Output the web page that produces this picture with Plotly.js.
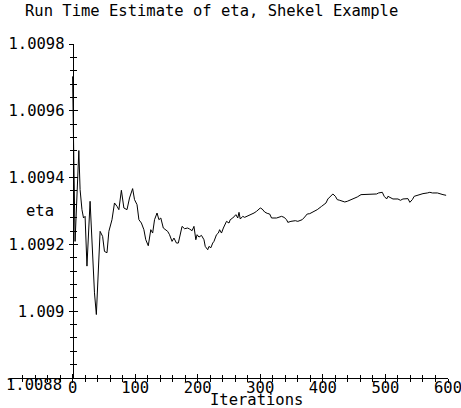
<!DOCTYPE html>
<html>
<head>
<meta charset="utf-8">
<script src="https://cdn.plot.ly/plotly-3.0.1.min.js"></script>
<style>html,body{margin:0;padding:0;background:#fff;}#chart{width:461px;height:408px;}</style>
</head>
<body>
<div id="chart"></div>
<script>
const iterations = [0, 4, 10, 12, 15, 17.5, 20, 23, 28, 32, 35, 38, 44, 48, 51, 55, 58, 63, 67, 71, 74, 78, 82, 87, 91, 96, 99, 103, 106, 110, 114, 117, 121, 125, 128, 131, 135, 138, 141, 145, 149, 152, 155, 159, 162, 166, 169, 172, 175, 179, 184, 187, 191, 194, 197, 199, 202, 206, 210, 212, 216, 218, 221, 224, 226, 230, 233, 235, 238, 241, 243, 246, 250, 252, 256, 261, 264, 266, 268, 272, 275, 282, 286, 290, 294, 300, 303, 307, 311, 315, 318, 322, 326, 334, 338, 342, 344, 349, 356, 360, 367, 371, 375, 379, 386, 391, 398, 401, 405, 408, 412, 416, 420, 423, 427, 431, 435, 439, 443, 447, 451, 455, 461, 466, 473, 478, 486, 489, 495, 498, 502, 504, 512, 520, 524, 528, 536, 539, 543, 546, 553, 560, 567, 571, 575, 583, 592, 597];
const eta = [1.009703, 1.009209, 1.009481, 1.009364, 1.009304, 1.009279, 1.009284, 1.009135, 1.009329, 1.009155, 1.009055, 1.008990, 1.009239, 1.009224, 1.009179, 1.009175, 1.009239, 1.009274, 1.009324, 1.009314, 1.009304, 1.009362, 1.009309, 1.009304, 1.009339, 1.009367, 1.009334, 1.009319, 1.009274, 1.009264, 1.009244, 1.009214, 1.009196, 1.009244, 1.009234, 1.009274, 1.009294, 1.009274, 1.009279, 1.009249, 1.009244, 1.009239, 1.009229, 1.009209, 1.009219, 1.009204, 1.009204, 1.009229, 1.009254, 1.009247, 1.009249, 1.009246, 1.009241, 1.009254, 1.009214, 1.009229, 1.009222, 1.009227, 1.009214, 1.009194, 1.009184, 1.009194, 1.009190, 1.009204, 1.009209, 1.009229, 1.009234, 1.009244, 1.009234, 1.009249, 1.009259, 1.009269, 1.009264, 1.009274, 1.009279, 1.009289, 1.009279, 1.009296, 1.009276, 1.009284, 1.009281, 1.009286, 1.009289, 1.009294, 1.009299, 1.009309, 1.009306, 1.009297, 1.009293, 1.009291, 1.009279, 1.009279, 1.009279, 1.009284, 1.009281, 1.009274, 1.009266, 1.009269, 1.009271, 1.009269, 1.009274, 1.009282, 1.009291, 1.009292, 1.009299, 1.009304, 1.009314, 1.009319, 1.009324, 1.009336, 1.009344, 1.009351, 1.009344, 1.009334, 1.009332, 1.009329, 1.009327, 1.009329, 1.009332, 1.009336, 1.009339, 1.009342, 1.009349, 1.009349, 1.009351, 1.009349, 1.009351, 1.009354, 1.009356, 1.009344, 1.009336, 1.009344, 1.009336, 1.009336, 1.009332, 1.009336, 1.009337, 1.009326, 1.009334, 1.009344, 1.009349, 1.009352, 1.009354, 1.009356, 1.009354, 1.009354, 1.009349, 1.009347];
const xTickVals = [0, 100, 200, 300, 400, 500, 600];
const yTickVals = [1.0088, 1.009, 1.0092, 1.0094, 1.0096, 1.0098];
const yTickText = ['', '1.009', '1.0092', '1.0094', '1.0096', '1.0098'];
const yBottomLabel = '1.0088';
const titleText = 'Run Time Estimate of eta, Shekel Example';
const xLabel = 'Iterations';
const yLabel = 'eta';

const FONT = {family: 'DejaVu Sans Mono', size: 15.5, color: '#000'};
const yAxisPos = 100 / 700;

const data = [
  {x: iterations, y: eta, type: 'scatter', mode: 'lines', line: {color: '#000', width: 1}, showlegend: false, hoverinfo: 'skip'},
  {x: [], y: [], type: 'scatter', mode: 'lines', xaxis: 'x2', yaxis: 'y2', showlegend: false}
];

function xAxis(side) {
  return {range: [-100, 600], showgrid: false, zeroline: false, fixedrange: true,
    tickmode: 'array', tickvals: xTickVals, ticks: side, ticklen: 4, tickcolor: '#000', tickwidth: 1,
    minor: {tickmode: 'linear', tick0: 0, dtick: 20, ticks: side, ticklen: 3, tickcolor: '#000', tickwidth: 1, showgrid: false}};
}
function yAxis(side) {
  return {range: [1.0088, 1.0098], showgrid: false, zeroline: false, fixedrange: true,
    tickmode: 'array', tickvals: yTickVals, ticks: side, ticklen: 4, tickcolor: '#000', tickwidth: 1,
    anchor: 'free', position: yAxisPos,
    minor: {tickmode: 'linear', tick0: 1.0088, dtick: 0.00004, ticks: side, ticklen: 3, tickcolor: '#000', tickwidth: 1, showgrid: false}};
}

const layout = {
  width: 461, height: 408,
  margin: {l: 10, r: 13, t: 44, b: 30},
  paper_bgcolor: '#fff', plot_bgcolor: '#fff',
  font: FONT,
  title: {text: titleText, font: FONT, x: 25/461, xanchor: 'left', xref: 'container', y: 1 - 11/408, yanchor: 'middle', yref: 'container'},
  xaxis: Object.assign(xAxis('inside'), {showline: true, linecolor: '#000', linewidth: 1, ticktext: xTickVals.map(String), tickfont: FONT, ticklabeloverflow: 'allow', ticklabelstandoff: -5}),
  yaxis: Object.assign(yAxis('inside'), {showline: true, linecolor: '#000', linewidth: 1, ticktext: yTickText, tickfont: FONT, ticklabelstandoff: 5}),
  xaxis2: Object.assign(xAxis('outside'), {overlaying: 'x', anchor: 'y2', showline: false, showticklabels: false}),
  yaxis2: Object.assign(yAxis('outside'), {overlaying: 'y', showline: false, showticklabels: false}),
  annotations: [
    {text: yLabel, xref: 'paper', yref: 'paper', x: (39.5 - 10) / 438, y: 0.5, xanchor: 'center', yanchor: 'middle', showarrow: false, font: FONT},
    {text: xLabel, xref: 'paper', yref: 'paper', x: (256 - 10) / 438, y: 0, xanchor: 'center', yanchor: 'middle', yshift: -22, showarrow: false, font: FONT},
    {text: yBottomLabel, xref: 'paper', yref: 'paper', x: yAxisPos, y: 0, xanchor: 'right', yanchor: 'middle', xshift: -9, yshift: -6.5, showarrow: false, font: FONT}
  ]
};

Plotly.newPlot('chart', data, layout, {displayModeBar: false, staticPlot: true});
</script>
</body>
</html>
